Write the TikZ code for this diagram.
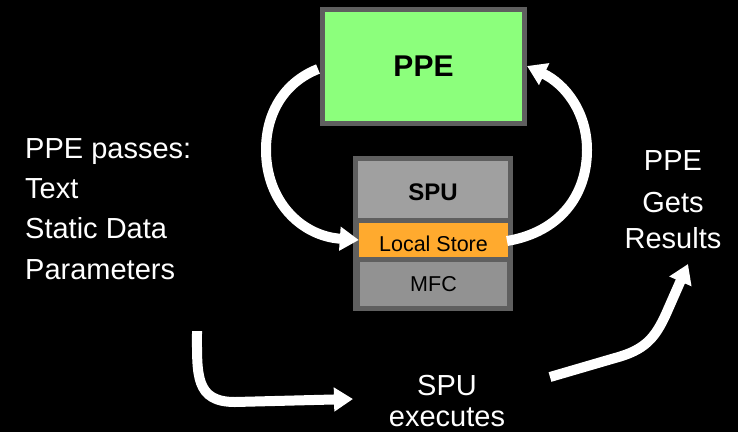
\documentclass[tikz,border=0pt]{standalone}
\usepackage{fontspec}
\setmainfont{Liberation Sans}
\usetikzlibrary{arrows.meta}
\definecolor{ppegreen}{RGB}{140,255,124}
\definecolor{lsorange}{RGB}{255,170,46}
\definecolor{spugray}{RGB}{160,160,160}
\definecolor{mfcgray}{RGB}{146,146,146}
\definecolor{bordergray}{RGB}{95,95,95}
\tikzset{
  bigarrow/.style={draw=white, line width=10pt, -{Triangle[width=23pt,length=19pt]}},
  wlabel/.style={text=white, font=\fontsize{29}{31}\selectfont, inner sep=0pt, anchor=base},
  wleft/.style={wlabel, anchor=base west},
  box/.style={inner sep=0pt, draw=none, text=black},
}
\begin{document}
\begin{tikzpicture}[x=1pt,y=-1pt]
\fill[black] (0,0) rectangle (738,432);
\useasboundingbox (0,0) rectangle (738,432);
% PPE box
\node[box, draw=bordergray, line width=5pt, fill=ppegreen, minimum width=202pt, minimum height=114pt,
      font=\bfseries\fontsize{30}{31}\selectfont] (ppe) at (423.5,66) {PPE};
% SPU stack
\node[box, fill=bordergray, minimum width=160pt, minimum height=155pt] (stack) at (433,233.5) {};
\node[box, fill=spugray, minimum width=150pt, minimum height=57pt,
      label={[inner sep=0pt, yshift=-3pt, font=\bfseries\fontsize{24}{25}\selectfont]center:SPU}] (spu) at (433,189.5) {};
\node[box, fill=lsorange, minimum width=149pt, minimum height=34pt,
      label={[inner sep=0pt, yshift=-4pt, font=\fontsize{21.5}{23}\selectfont]center:Local Store}] (ls) at (433.5,240) {};
\node[box, fill=mfcgray, minimum width=147pt, minimum height=44pt,
      font=\fontsize{21.5}{23}\selectfont] (mfc) at (433.5,284) {MFC};
% left text
\node[wleft] (t1) at (25,158) {PPE passes:};
\node[wleft] (t2) at (25,198) {Text};
\node[wleft] (t3) at (25,238) {Static Data};
\node[wleft] (t4) at (25,279) {Parameters};
% right text
\node[wlabel] (r1) at (673,170) {PPE};
\node[wlabel] (r2) at (673,212) {Gets};
\node[wlabel] (r3) at (673,248) {Results};
% bottom text
\node[wlabel] (b1) at (447,395) {SPU};
\node[wlabel] (b2) at (447,426) {executes};
% coordinates
\coordinate (a1) at (318,69);
\coordinate (a2) at (507,241);
\coordinate (c1) at (197,331);
\coordinate (c2) at (353,399);
\coordinate (d1) at (550,377);
\coordinate (d2) at (688,264);
% arrows
\draw[bigarrow] (a1) .. controls (285,82) and (266,112) .. (266,150)
  .. controls (266,200) and (300,236) .. (ls.west);
\draw[bigarrow] (a2) .. controls (560,232) and (587,195) .. (587,150)
  .. controls (587,112) and (565,84) .. (ppe.east);
\draw[bigarrow] (c1) .. controls (197,375) and (195,402) .. (235,402) -- (c2);
\draw[bigarrow] (d1) -- (615,358) .. controls (645,350) and (655,338) .. (666,314) -- (d2);
\end{tikzpicture}
\end{document}
